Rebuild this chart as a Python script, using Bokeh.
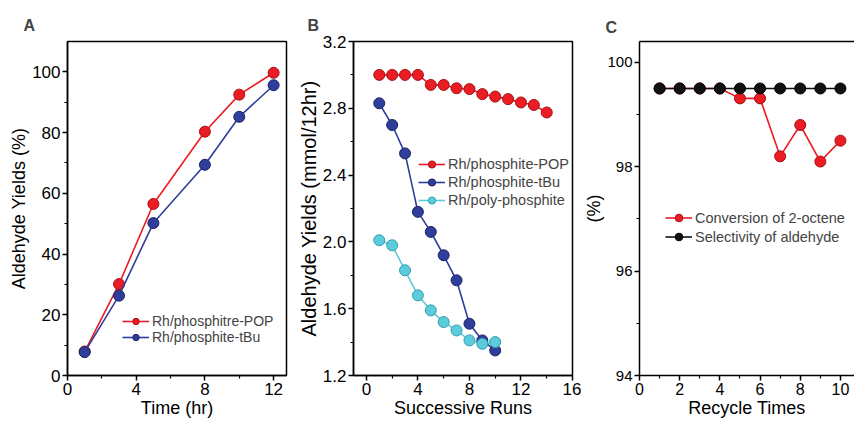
from bokeh.plotting import figure
from bokeh.layouts import row
from bokeh.models import FixedTicker, PrintfTickFormatter, Range1d, LinearAxis
from bokeh.embed import file_html
from bokeh.resources import INLINE

# ---------------- data ----------------
a_time = [1, 3, 5, 8, 10, 12]
a_pop = [7.9, 30.1, 56.5, 80.3, 92.5, 99.7]
a_tbu = [7.7, 26.3, 50.2, 69.4, 85.2, 95.6]

b_runs_pop = [1, 2, 3, 4, 5, 6, 7, 8, 9, 10, 11, 12, 13, 14]
b_pop = [3.0, 3.0, 3.0, 3.0, 2.94, 2.94, 2.92, 2.915, 2.885, 2.87, 2.855, 2.835, 2.82, 2.775]
b_runs = [1, 2, 3, 4, 5, 6, 7, 8, 9, 10]
b_tbu = [2.83, 2.70, 2.53, 2.18, 2.06, 1.92, 1.77, 1.51, 1.41, 1.35]
b_poly = [2.01, 1.98, 1.83, 1.68, 1.59, 1.52, 1.47, 1.41, 1.39, 1.40]

c_times = [1, 2, 3, 4, 5, 6, 7, 8, 9, 10]
c_conv = [99.5, 99.5, 99.5, 99.5, 99.31, 99.31, 98.2, 98.8, 98.1, 98.5]
c_sel = [99.5, 99.5, 99.5, 99.5, 99.5, 99.5, 99.5, 99.5, 99.5, 99.5]

RED = "#ec1c24"
RED_E = "#a50f15"
BLUE = "#2e3e9a"
BLUE_E = "#1a2466"
CYAN = "#5ccbdb"
CYAN_E = "#2f9fb0"
BLACK = "#111111"
BLACK_E = "#000000"

FONT = "Liberation Sans"
H = 423
TOP = 41
BOTTOM = 48


def make_fig(title, x_range, y_range, width, left, right, title_offset, standoff):
    p = figure(width=width, height=H,
               x_range=Range1d(*x_range), y_range=Range1d(*y_range),
               output_backend="svg", toolbar_location=None,
               min_border_left=left, min_border_right=right,
               min_border_top=TOP, min_border_bottom=BOTTOM)
    p.title.text = title
    p.title.text_font = FONT
    p.title.text_font_size = "16px"
    p.title.text_font_style = "bold"
    p.title.align = "left"
    p.title.offset = title_offset
    p.title.standoff = standoff
    p.xgrid.visible = False
    p.ygrid.visible = False
    p.background_fill_color = "white"
    p.border_fill_color = "white"
    for ax in (p.xaxis[0], p.yaxis[0]):
        ax.axis_line_color = "black"
        ax.axis_line_width = 1.5
        ax.major_tick_line_color = "black"
        ax.major_tick_line_width = 1.5
        ax.minor_tick_line_color = "black"
        ax.minor_tick_line_width = 1.2
        ax.major_tick_in = 0
        ax.major_tick_out = 5
        ax.minor_tick_in = 0
        ax.minor_tick_out = 3
        ax.major_label_text_font = FONT
        ax.major_label_text_color = "black"
        ax.axis_label_text_font = FONT
        ax.axis_label_text_font_size = "18px"
        ax.axis_label_text_font_style = "normal"
        ax.axis_label_text_color = "black"
        ax.axis_label_standoff = 0
        ax.major_label_standoff = 2
    return p


def series(p, x, y, color, edge, label):
    p.line(x, y, line_color=color, line_width=1.6, legend_label=label)
    p.scatter(x, y, size=11, fill_color=color, line_color=edge, line_width=1,
              legend_label=label)


def style_legend(p, loc, font_size, spacing_h):
    lg = p.legend[0]
    lg.location = loc
    lg.border_line_color = None
    lg.background_fill_alpha = 0
    lg.padding = 0
    lg.margin = 0
    lg.spacing = 0
    lg.label_height = spacing_h
    lg.glyph_height = spacing_h
    lg.glyph_width = 27
    lg.label_standoff = 3
    lg.label_text_font = FONT
    lg.label_text_font_size = font_size


# ---------------- panel A ----------------
pA = make_fig("A", (0, 12.75), (0, 110), 292, 67, 6, -44, 15)
series(pA, a_time, a_pop, RED, RED_E, "Rh/phosphitre-POP")
series(pA, a_time, a_tbu, BLUE, BLUE_E, "Rh/phosphite-tBu")
pA.xaxis.ticker = FixedTicker(ticks=[0, 4, 8, 12], minor_ticks=[2, 6, 10])
pA.yaxis.ticker = FixedTicker(ticks=[0, 20, 40, 60, 80, 100], minor_ticks=[10, 30, 50, 70, 90])
pA.xaxis.axis_label = "Time (hr)"
pA.yaxis.axis_label = "Aldehyde Yields (%)"
pA.xaxis.major_label_text_font_size = "17px"
pA.yaxis.major_label_text_font_size = "17px"
pA.outline_line_color = "black"
pA.outline_line_width = 1.5
pA.outline_line_alpha = 1
style_legend(pA, (55, 30), "14px", 16)

# ---------------- panel B ----------------
pB = make_fig("B", (-1, 16), (1.2, 3.2), 289, 61, 9, -46, 15)
series(pB, b_runs_pop, b_pop, RED, RED_E, "Rh/phosphite-POP")
series(pB, b_runs, b_tbu, BLUE, BLUE_E, "Rh/phosphite-tBu")
series(pB, b_runs, b_poly, CYAN, CYAN_E, "Rh/poly-phosphite")
pB.xaxis.ticker = FixedTicker(ticks=[0, 4, 8, 12, 16], minor_ticks=[2, 6, 10, 14])
pB.yaxis.ticker = FixedTicker(ticks=[1.2, 1.6, 2.0, 2.4, 2.8, 3.2],
                              minor_ticks=[1.4, 1.8, 2.2, 2.6, 3.0])
pB.yaxis.formatter = PrintfTickFormatter(format="%.1f")
pB.xaxis.axis_label = "Successive Runs"
pB.yaxis.axis_label = "Aldehyde Yields (mmol/12hr)"
pB.yaxis.axis_label_text_font_size = "20px"
pB.xaxis.major_label_text_font_size = "17px"
pB.yaxis.major_label_text_font_size = "17px"
pB.outline_line_color = "black"
pB.outline_line_width = 1.5
pB.outline_line_alpha = 1
style_legend(pB, (65, 166), "14.5px", 18)

# ---------------- panel C ----------------
pC = make_fig("C", (0, 10.7), (94, 100.4), 273, 57, 0, -34, 12)
series(pC, c_times, c_conv, RED, RED_E, "Conversion of 2-octene")
series(pC, c_times, c_sel, BLACK, BLACK_E, "Selectivity of aldehyde")
pC.xaxis.ticker = FixedTicker(ticks=[0, 2, 4, 6, 8, 10], minor_ticks=[1, 3, 5, 7, 9])
pC.yaxis.ticker = FixedTicker(ticks=[94, 96, 98, 100], minor_ticks=[95, 97, 99])
pC.xaxis.axis_label = "Recycle Times"
pC.yaxis.axis_label = "(%)"
pC.xaxis.major_label_text_font_size = "16px"
pC.yaxis.major_label_text_font_size = "15px"
pC.outline_line_color = None
top_ax = LinearAxis(ticker=FixedTicker(ticks=[]), major_label_text_font_size="0px",
                    axis_line_color="black", axis_line_width=1.5,
                    major_tick_line_color=None, minor_tick_line_color=None)
pC.add_layout(top_ax, "above")
style_legend(pC, (26, 129), "14.5px", 19)

layout = row(pA, pB, pC)
open("out.html", "w").write(file_html(layout, INLINE))
